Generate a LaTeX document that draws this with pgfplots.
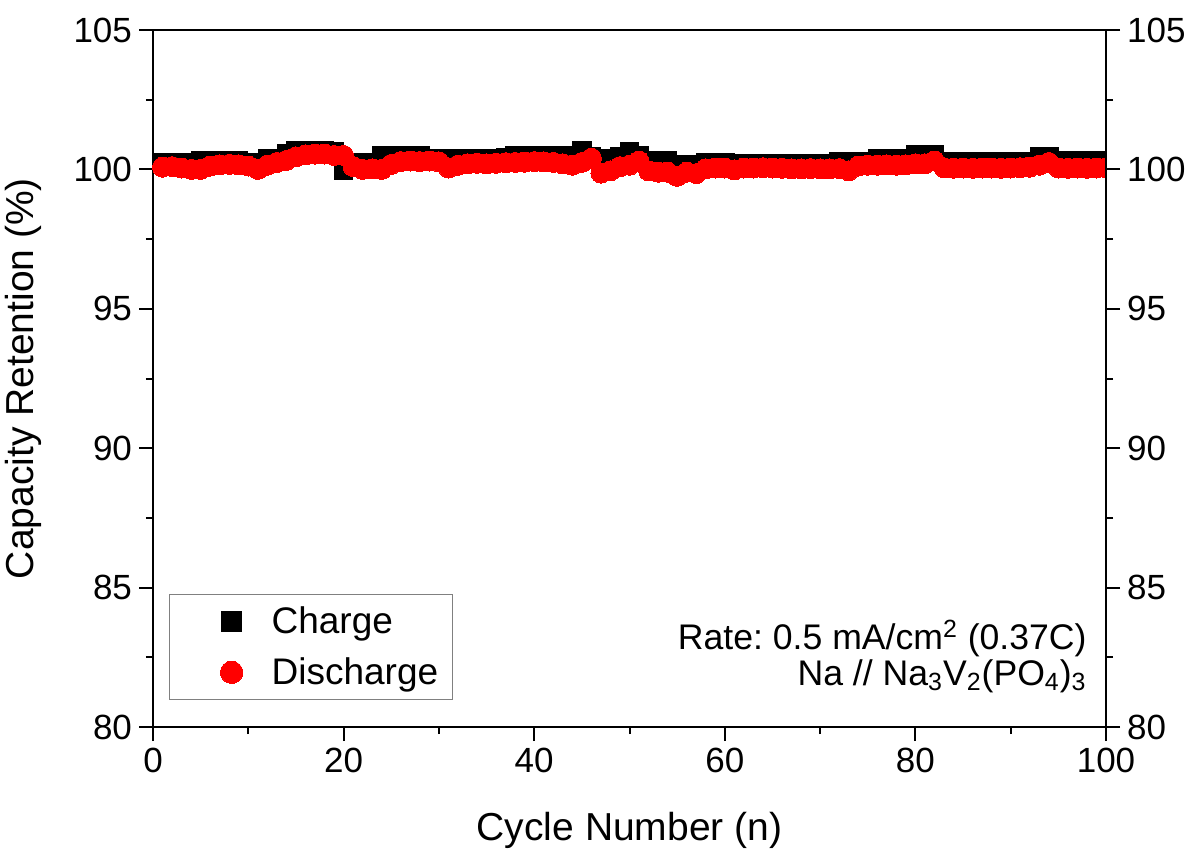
\documentclass[border=0pt]{standalone}
\usepackage{fontspec}
\setmainfont{Liberation Sans}
\usepackage{pgfplots}
\pgfplotsset{compat=1.18}
\usepackage{pgfplotstable}

\pgfplotstableread{
n c d
1 100.25 100.08
2 100.25 100.10
3 100.25 100.05
4 100.25 100.00
5 100.30 100.00
6 100.30 100.12
7 100.30 100.16
8 100.30 100.18
9 100.30 100.16
10 100.25 100.12
11 100.25 100.00
12 100.40 100.15
13 100.40 100.25
14 100.58 100.32
15 100.68 100.45
16 100.68 100.52
17 100.68 100.55
18 100.68 100.55
19 100.62 100.50
20 99.95 100.50
21 100.23 100.10
22 100.23 100.00
23 100.23 100.02
24 100.48 100.00
25 100.48 100.18
26 100.48 100.28
27 100.48 100.30
28 100.48 100.28
29 100.40 100.30
30 100.40 100.27
31 100.40 100.05
32 100.40 100.15
33 100.40 100.20
34 100.40 100.22
35 100.40 100.20
36 100.40 100.22
37 100.42 100.24
38 100.50 100.25
39 100.50 100.26
40 100.50 100.28
41 100.50 100.27
42 100.50 100.25
43 100.50 100.20
44 100.38 100.15
45 100.66 100.25
46 100.45 100.40
47 100.30 99.87
48 100.40 99.95
49 100.45 100.10
50 100.62 100.15
51 100.50 100.30
52 100.30 99.95
53 100.30 99.90
54 100.30 99.90
55 100.18 99.75
56 100.18 99.90
57 100.18 99.85
58 100.25 100.02
59 100.25 100.05
60 100.25 100.05
61 100.20 99.98
62 100.20 100.05
63 100.20 100.05
64 100.20 100.06
65 100.20 100.05
66 100.20 100.04
67 100.20 100.02
68 100.20 100.02
69 100.20 100.03
70 100.20 100.02
71 100.20 100.02
72 100.28 100.03
73 100.28 99.95
74 100.28 100.12
75 100.28 100.15
76 100.40 100.15
77 100.40 100.16
78 100.40 100.15
79 100.40 100.16
80 100.52 100.20
81 100.52 100.20
82 100.52 100.30
83 100.27 100.06
84 100.27 100.04
85 100.27 100.05
86 100.27 100.04
87 100.27 100.05
88 100.27 100.05
89 100.27 100.04
90 100.27 100.05
91 100.27 100.06
92 100.27 100.08
93 100.45 100.15
94 100.45 100.25
95 100.30 100.05
96 100.30 100.04
97 100.30 100.05
98 100.30 100.04
99 100.30 100.05
100 100.30 100.06
}\datatable

\begin{document}
\begin{tikzpicture}
\pgfplotsset{
  commonstyle/.style={
    width=476.5pt, height=348.5pt, scale only axis,
    xmin=0, xmax=100, ymin=80, ymax=105,
    ytick={80,85,90,95,100,105},
    minor ytick={82.5,87.5,92.5,97.5,102.5},
    tick align=outside,
    major tick length=7pt, minor tick length=3.5pt,
    every tick/.style={black, line width=1pt},
    axis line style={line width=1pt},
    tick label style={font=\fontsize{17.5}{21}\selectfont},
    /pgf/number format/assume math mode=true,
    clip mode=individual,
    clip marker paths=true,
  }
}
\begin{axis}[
  commonstyle,
  axis lines=box,
  xtick={0,20,40,60,80,100},
  minor xtick={10,30,50,70,90},
  xtick pos=bottom,
  ytick pos=left,
  xlabel={Cycle Number (n)},
  ylabel={Capacity Retention (\%)},
  xlabel style={font=\fontsize{19.5}{23}\selectfont, at={(axis description cs:0.5,-0.112)}, anchor=north},
  ylabel style={font=\fontsize{19.5}{23}\selectfont, at={(axis description cs:-0.110,0.5)}, anchor=south},
  legend style={at={(rel axis cs:0.0168,0.039)}, anchor=south west,
    draw=gray, line width=0.6pt, inner xsep=4pt, inner ysep=4pt,
    font=\fontsize{18.5}{22}\selectfont, row sep=6.5pt,
    nodes={inner xsep=3pt, inner ysep=2pt}, cells={anchor=west}},
  legend image code/.code={\path[draw=none,fill=none] (0pt,-5pt) rectangle (44pt,5pt); \draw[#1, every mark/.append style={scale=1.12}] plot coordinates {(27pt,0pt)};},
]
\addplot[only marks, mark=square*, mark size=4.6pt, black, mark options={line width=0pt}] table[x=n, y=c] {\datatable};
\addlegendentry{Charge}
\addplot[only marks, mark=*, mark size=5pt, red, mark options={line width=0pt, fill=red, draw=red}] table[x=n, y=d] {\datatable};
\addlegendentry{Discharge}
\node[anchor=base east, font=\fontsize{17.8}{21}\selectfont, inner sep=0pt] at (rel axis cs:0.98,0.111) {Rate:\ 0.5 mA/cm\textsuperscript{2} (0.37C)};
\node[anchor=base east, font=\fontsize{17.8}{21}\selectfont, inner sep=0pt] at (rel axis cs:0.98,0.060) {Na // Na\textsubscript{3}V\textsubscript{2}(PO\textsubscript{4})\textsubscript{3}};
\path (rel axis cs:0,0) ++(-76.5pt,-63pt) coordinate (bbbl);
\path (rel axis cs:1,1) ++(44.5pt,15pt) coordinate (bbtr);
\end{axis}
\begin{axis}[
  commonstyle,
  axis x line=none,
  axis y line*=right,
  ytick pos=right,
  yticklabel pos=right,
]
\end{axis}
\pgfresetboundingbox
\path[use as bounding box] (bbbl) rectangle (bbtr);
\end{tikzpicture}
\end{document}
